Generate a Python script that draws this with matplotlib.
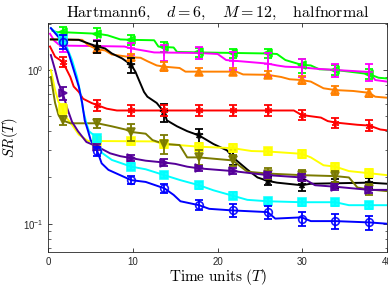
import matplotlib
matplotlib.use("Agg")
import matplotlib.pyplot as plt
from matplotlib.ticker import LogLocator, NullFormatter

plt.rcParams["mathtext.fontset"] = "cm"
plt.rcParams["font.family"] = ["Liberation Sans", "DejaVu Sans"]

# ------------------------------------------------------------------------
# marker positions (time units), shared by all methods
mk_x = [1.7, 5.8, 9.8, 13.7, 17.8, 21.8, 25.9, 29.9, 33.9, 37.9]

green_x = [0.5, 1.0, 1.7, 5.8, 7.0, 8.5, 9.8, 12.5, 13.0, 13.7, 14.8, 15.2, 17.8,
           25.9, 27.0, 28.0, 29.9, 31.0, 32.0, 33.9, 37.9, 39.0, 40]
green_y = [1.80, 1.76, 1.76, 1.72, 1.68, 1.58, 1.57, 1.56, 1.42, 1.41, 1.40, 1.31, 1.30,
           1.28, 1.27, 1.16, 1.08, 1.07, 1.01, 1.0, 0.94, 0.89, 0.88]
green_m = [1.76, 1.72, 1.57, 1.41, 1.30, 1.28, 1.28, 1.07, 1.0, 0.94]
green_e = [0.13, 0.15, 0.11, 0.11, 0.09, 0.09, 0.09, 0.11, 0.07, 0.07]

magenta_x = [0.2, 0.7, 1.2, 1.7, 5.8, 9.0, 9.8, 11.5, 12.5, 17.8, 20.0, 21.0, 21.8,
             25.9, 27.0, 28.0, 29.9, 31.5, 33.9, 37.9, 38.6, 40]
magenta_y = [1.72, 1.55, 1.47, 1.44, 1.43, 1.42, 1.38, 1.33, 1.30, 1.29, 1.27, 1.16, 1.15,
             1.10, 1.07, 1.05, 1.04, 1.02, 1.0, 0.97, 0.86, 0.84]
magenta_m = [1.44, 1.43, 1.38, 1.30, 1.29, 1.15, 1.10, 1.04, 1.0, 0.97]
magenta_e = [0.13, 0.13, 0.12, 0.15, 0.12, 0.15, 0.18, 0.14, 0.10, 0.12]

orange_x = [0.3, 4.0, 4.7, 5.8, 6.7, 7.5, 9.8, 10.9, 11.7, 12.8, 13.7, 15.5, 16.2, 22.2,
            23.0, 25.9, 27.5, 28.5, 29.9, 31.0, 32.5, 33.9, 36.0, 37.9, 38.6, 40]
orange_y = [1.58, 1.57, 1.45, 1.36, 1.34, 1.26, 1.21, 1.20, 1.14, 1.07, 1.05, 1.03, 0.975, 0.975,
            0.935, 0.93, 0.90, 0.87, 0.86, 0.84, 0.76, 0.74, 0.73, 0.71, 0.67, 0.66]
orange_m = [1.58, 1.36, 1.21, 1.05, 0.975, 0.975, 0.93, 0.86, 0.74, 0.71]
orange_e = [0.06, 0.08, 0.06, 0.07, 0.05, 0.05, 0.05, 0.05, 0.05, 0.04]

black_x = [0.3, 3.6, 4.7, 5.8, 6.7, 7.5, 8.7, 9.8, 10.3, 10.7, 11.3, 11.7, 12.8, 13.7, 14.0,
           15.2, 16.4, 17.8, 19.5, 21.1, 21.8, 23.5, 24.7, 25.9, 27.0, 29.9, 31.0, 37.9, 40]
black_y = [1.58, 1.57, 1.49, 1.42, 1.38, 1.28, 1.19, 1.08, 0.97, 0.86, 0.72, 0.67, 0.61, 0.53, 0.47,
           0.43, 0.40, 0.375, 0.33, 0.30, 0.27, 0.225, 0.20, 0.19, 0.185, 0.178, 0.182, 0.185, 0.182]
black_m = [1.58, 1.42, 1.08, 0.53, 0.375, 0.27, 0.19, 0.178, 0.183, 0.185]
black_e = [0.10, 0.13, 0.12, 0.07, 0.04, 0.03, 0.012, 0.014, 0.012, 0.014]

red_x = [0.2, 0.8, 1.7, 2.6, 3.0, 3.6, 4.1, 5.1, 5.8, 6.9, 8.1, 29.0, 29.9, 31.0, 32.2,
         33.0, 33.9, 36.5, 37.9, 39.2, 40]
red_y = [1.42, 1.22, 1.13, 0.90, 0.78, 0.72, 0.65, 0.61, 0.59, 0.56, 0.545, 0.545, 0.51, 0.50, 0.49,
         0.465, 0.455, 0.44, 0.435, 0.41, 0.405]
red_m = [1.13, 0.59, 0.545, 0.545, 0.545, 0.545, 0.545, 0.51, 0.455, 0.435]
red_e = [0.09, 0.05, 0.045, 0.045, 0.045, 0.045, 0.045, 0.04, 0.035, 0.035]

yellow_x = [0.3, 0.8, 1.2, 1.7, 2.0, 2.8, 3.6, 4.7, 5.8, 12.5, 13.7, 17.8, 21.8, 24.0,
            25.9, 29.9, 31.0, 32.5, 33.9, 35.5, 37.9, 40]
yellow_y = [1.0, 0.74, 0.62, 0.56, 0.50, 0.44, 0.38, 0.345, 0.345, 0.343, 0.33, 0.317, 0.31, 0.297,
            0.295, 0.285, 0.27, 0.24, 0.235, 0.22, 0.213, 0.207]
yellow_m = [0.56, 0.345, 0.343, 0.33, 0.317, 0.31, 0.295, 0.285, 0.235, 0.213]
yellow_e = [0.04, 0.02, 0.02, 0.02, 0.02, 0.018, 0.017, 0.017, 0.014, 0.013]

olive_x = [0.3, 0.8, 1.2, 1.7, 2.6, 5.8, 7.5, 9.1, 9.8, 11.5, 12.3, 13.7, 15.5, 16.4, 17.8,
           21.8, 22.5, 23.5, 25.9, 29.9, 33.9, 35.5, 36.5, 37.9, 40]
olive_y = [0.90, 0.61, 0.51, 0.47, 0.45, 0.45, 0.43, 0.41, 0.395, 0.385, 0.35, 0.33, 0.325, 0.27, 0.27,
           0.258, 0.24, 0.218, 0.212, 0.207, 0.204, 0.20, 0.172, 0.167, 0.163]
olive_m = [0.47, 0.45, 0.395, 0.33, 0.27, 0.258, 0.212, 0.207, 0.204, 0.167]
olive_e = [0.03, 0.03, 0.05, 0.045, 0.03, 0.02, 0.017, 0.017, 0.016, 0.013]

purple_x = [0.3, 0.8, 1.2, 1.7, 2.2, 2.8, 3.5, 4.5, 5.8, 7.3, 8.5, 9.8, 11.5, 13.7, 15.0,
            16.4, 17.8, 21.8, 25.9, 29.9, 31.5, 33.9, 37.9, 40]
purple_y = [1.25, 1.0, 0.82, 0.71, 0.57, 0.46, 0.40, 0.34, 0.317, 0.287, 0.275, 0.267, 0.257, 0.25, 0.245,
            0.235, 0.229, 0.22, 0.207, 0.20, 0.178, 0.174, 0.166, 0.166]
purple_m = [0.71, 0.317, 0.267, 0.25, 0.229, 0.22, 0.207, 0.20, 0.174, 0.166]
purple_e = [0.07, 0.015, 0.012, 0.012, 0.01, 0.01, 0.009, 0.009, 0.008, 0.008]

cyan_x = [0.3, 1.2, 1.7, 2.0, 2.8, 3.4, 3.8, 4.1, 4.5, 4.8, 5.8, 6.3, 7.5, 9.8, 11.5, 13.7,
          15.6, 17.8, 19.5, 21.8, 23.5, 25.9, 29.9, 33.9, 35.5, 37.9, 40]
cyan_y = [1.87, 1.69, 1.58, 1.49, 1.16, 0.90, 0.70, 0.55, 0.45, 0.40, 0.36, 0.29, 0.26, 0.235, 0.226, 0.207,
          0.192, 0.178, 0.165, 0.152, 0.143, 0.14, 0.138, 0.138, 0.132, 0.132, 0.132]
cyan_m = [1.58, 0.36, 0.235, 0.207, 0.178, 0.152, 0.14, 0.138, 0.138, 0.132]
cyan_e = [0.10, 0.02, 0.012, 0.01, 0.009, 0.008, 0.007, 0.007, 0.007, 0.007]

blue_x = [0.3, 1.7, 2.4, 3.0, 3.6, 4.0, 4.3, 4.7, 5.0, 5.8, 6.3, 7.1, 9.8, 11.5, 13.7, 14.8,
          15.6, 17.8, 19.0, 21.8, 25.9, 26.8, 29.9, 31.0, 33.9, 37.9, 40]
blue_y = [1.87, 1.52, 1.28, 1.0, 0.78, 0.61, 0.47, 0.40, 0.35, 0.295, 0.247, 0.224, 0.192, 0.187, 0.17, 0.154,
          0.14, 0.132, 0.125, 0.122, 0.119, 0.108, 0.11, 0.104, 0.104, 0.102, 0.10]
blue_m = [1.52, 0.295, 0.192, 0.17, 0.132, 0.122, 0.119, 0.108, 0.104, 0.102]
blue_e = [0.16, 0.02, 0.012, 0.012, 0.01, 0.012, 0.012, 0.012, 0.011, 0.011]
# ------------------------------------------------------------------------

series = [
    (green_x, green_y, green_m, green_e, "#00ff00", "<", True),
    (magenta_x, magenta_y, magenta_m, magenta_e, "#ff00ff", "+", False),
    (orange_x, orange_y, orange_m, orange_e, "#ff8000", "^", True),
    (black_x, black_y, black_m, black_e, "#000000", "*", True),
    (red_x, red_y, red_m, red_e, "#ff0000", (6, 2, 0), False),
    (yellow_x, yellow_y, yellow_m, yellow_e, "#ffff00", "s", True),
    (olive_x, olive_y, olive_m, olive_e, "#7a7a00", "v", True),
    (purple_x, purple_y, purple_m, purple_e, "#550099", ">", True),
    (cyan_x, cyan_y, cyan_m, cyan_e, "#00ffff", "s", True),
    (blue_x, blue_y, blue_m, blue_e, "#0000ff", "o", False),
]

fig = plt.figure(figsize=(3.88, 2.87), dpi=100)
ax = fig.add_axes([0.1245, 0.122, 0.873, 0.799])

for xs, ys, ym, ye, col, mrk, filled in series:
    ax.plot(xs, ys, color=col, lw=1.4, zorder=2)
    ax.errorbar(mk_x, ym, yerr=ye, fmt="none", ecolor=col, elinewidth=1.3,
                capsize=2.8, capthick=1.3, zorder=3)
    ax.plot(mk_x, ym, ls="none", marker=mrk, color=col, ms=5.5, mew=1.2,
            mfc=col if filled else "none", alpha=0.9, zorder=3)

ax.set_yscale("log")
ax.set_xlim(0, 40)
ax.set_ylim(0.0655, 2.03)
ax.set_xticks([0, 10, 20, 30, 40])
ax.yaxis.set_major_locator(LogLocator(base=10, numticks=5))
ax.yaxis.set_minor_locator(LogLocator(base=10, subs=range(2, 10), numticks=20))
ax.yaxis.set_minor_formatter(NullFormatter())

ax.tick_params(which="both", direction="in", top=True, right=True,
               labelsize=7, colors="#262626")
ax.tick_params(which="major", length=3, width=0.6)
ax.tick_params(which="minor", length=1.8, width=0.5)
for sp in ax.spines.values():
    sp.set_color("#262626")
    sp.set_linewidth(0.6)

ax.set_title(r"$\mathrm{Hartmann6},\quad d=6,\quad M=12,\quad \mathrm{halfnormal}$",
             fontsize=11.5, pad=4)
ax.set_xlabel(r"$\mathrm{Time\ units\ }(T)$", fontsize=11, labelpad=0)
ax.set_ylabel(r"$SR(T)$", fontsize=10.5, labelpad=2)

fig.savefig("out.png", dpi=100)
